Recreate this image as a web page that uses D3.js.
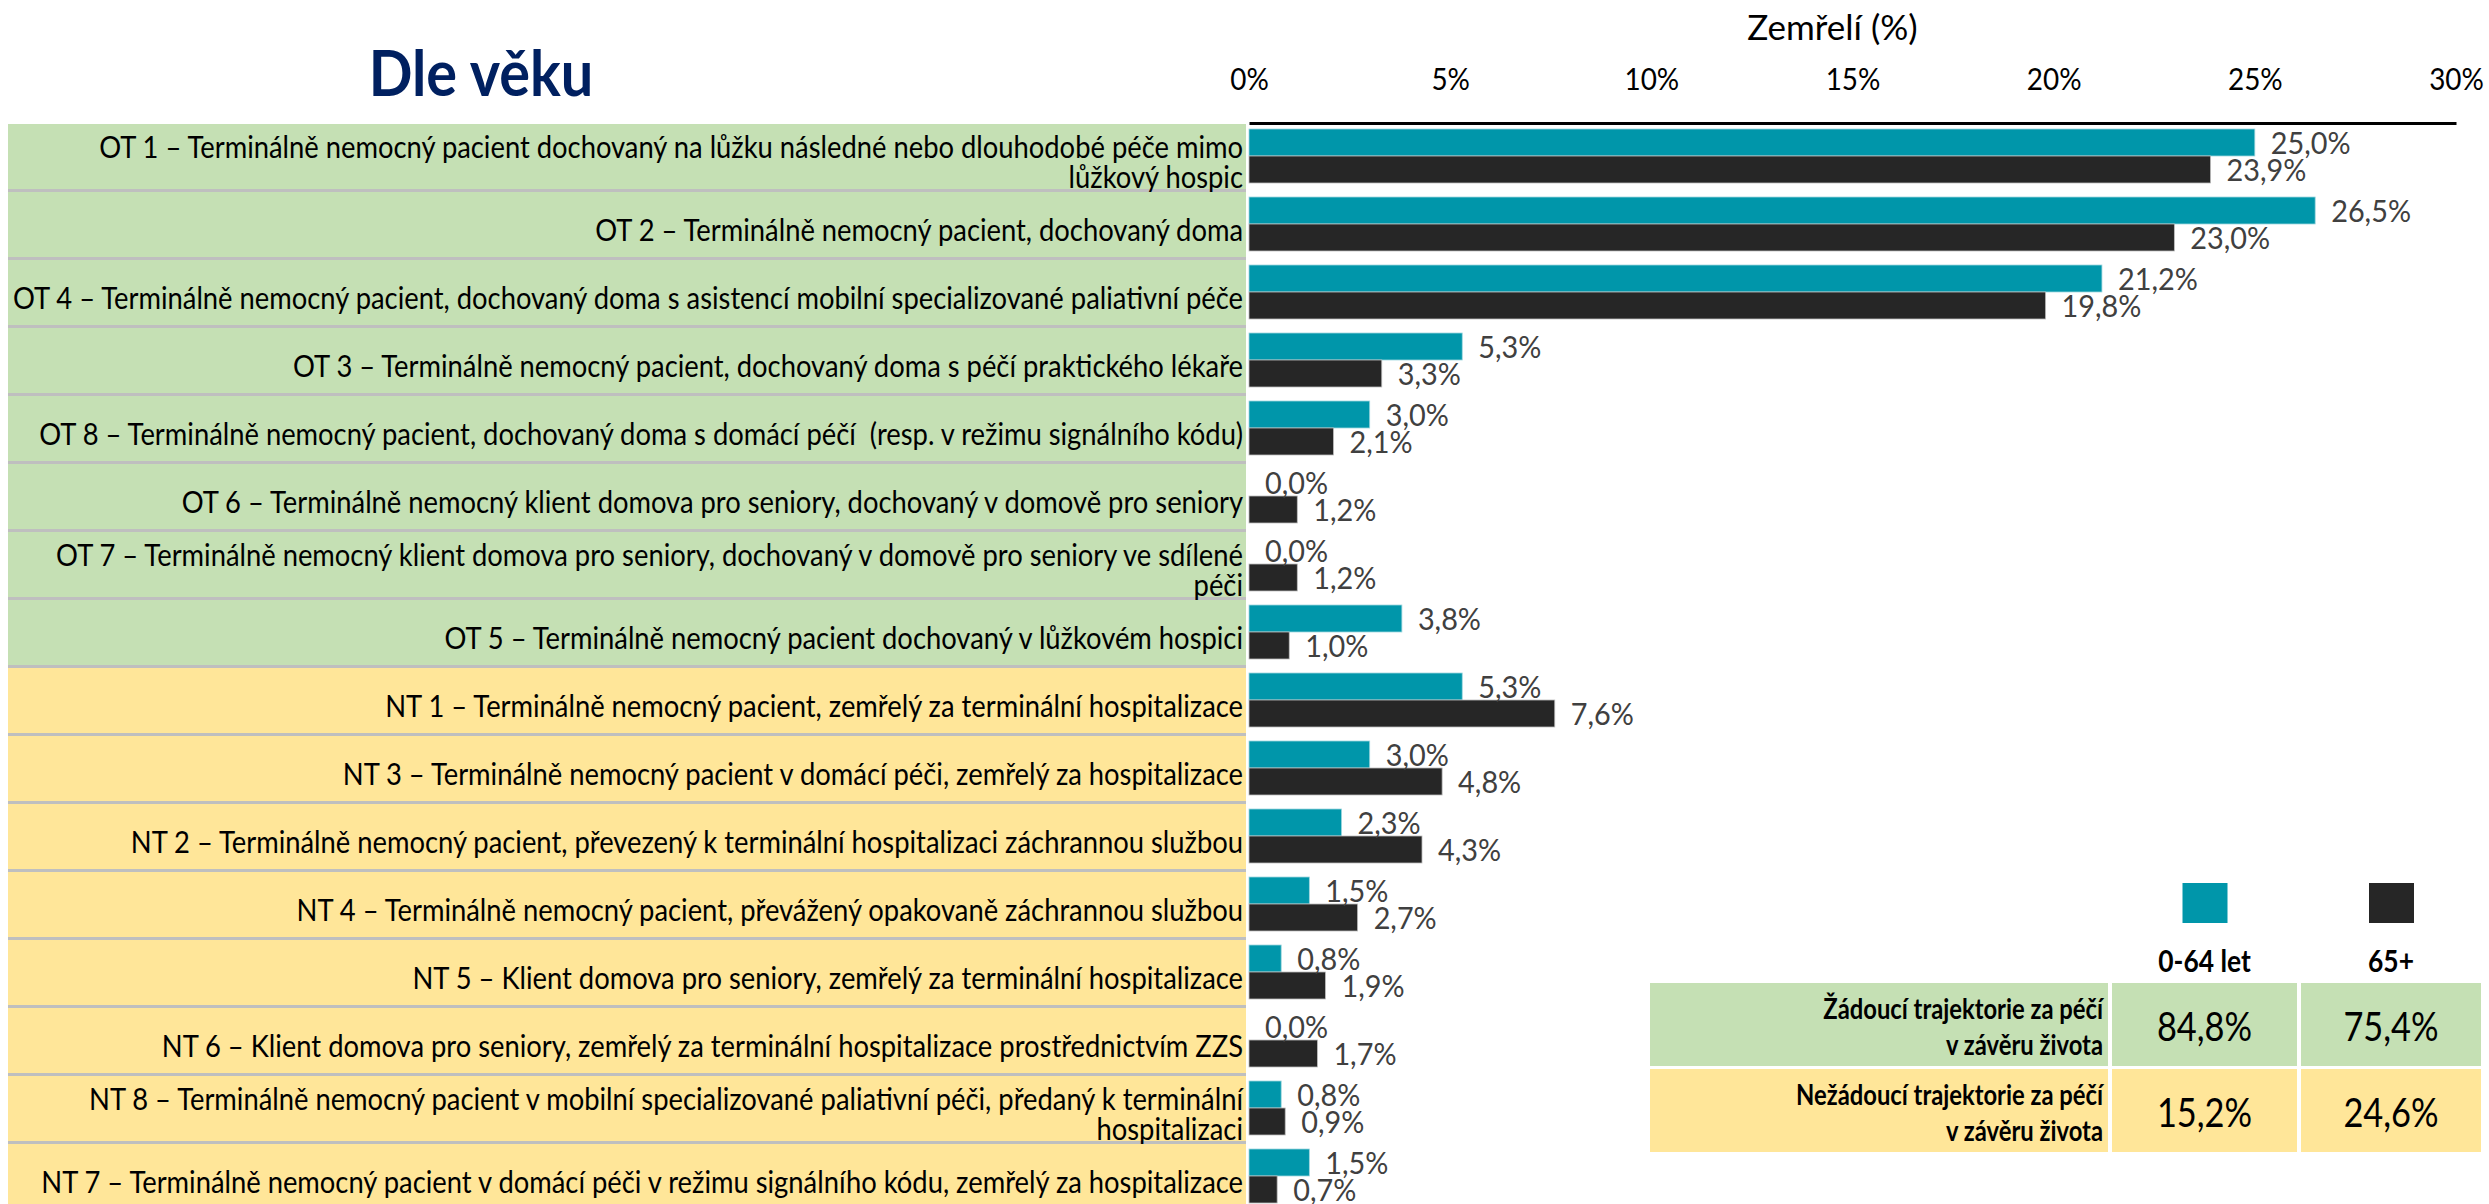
<!DOCTYPE html>
<html>
<head>
<meta charset="utf-8">
<script src="https://cdn.jsdelivr.net/npm/d3@7"></script>
<style>
  body { margin: 0; background: #fff; }
  svg { display: block; font-family: Lato, "Open Sans", sans-serif; }
  svg text { white-space: pre; }
</style>
</head>
<body>
<svg id="chart" width="2489" height="1204"></svg>
<script>
// trajectories, top to bottom (\n = forced line break as in the original)
const categories = [
  "OT 1 – Terminálně nemocný pacient dochovaný na lůžku následné nebo dlouhodobé péče mimo\nlůžkový hospic",
  "OT 2 – Terminálně nemocný pacient, dochovaný doma",
  "OT 4 – Terminálně nemocný pacient, dochovaný doma s asistencí mobilní specializované paliativní péče",
  "OT 3 – Terminálně nemocný pacient, dochovaný doma s péčí praktického lékaře",
  "OT 8 – Terminálně nemocný pacient, dochovaný doma s domácí péčí  (resp. v režimu signálního kódu)",
  "OT 6 – Terminálně nemocný klient domova pro seniory, dochovaný v domově pro seniory",
  "OT 7 – Terminálně nemocný klient domova pro seniory, dochovaný v domově pro seniory ve sdílené\npéči",
  "OT 5 – Terminálně nemocný pacient dochovaný v lůžkovém hospici",
  "NT 1 – Terminálně nemocný pacient, zemřelý za terminální hospitalizace",
  "NT 3 – Terminálně nemocný pacient v domácí péči, zemřelý za hospitalizace",
  "NT 2 – Terminálně nemocný pacient, převezený k terminální hospitalizaci záchrannou službou",
  "NT 4 – Terminálně nemocný pacient, převážený opakovaně záchrannou službou",
  "NT 5 – Klient domova pro seniory, zemřelý za terminální hospitalizace",
  "NT 6 – Klient domova pro seniory, zemřelý za terminální hospitalizace prostřednictvím ZZS",
  "NT 8 – Terminálně nemocný pacient v mobilní specializované paliativní péči, předaný k terminální\nhospitalizaci",
  "NT 7 – Terminálně nemocný pacient v domácí péči v režimu signálního kódu, zemřelý za hospitalizace"
];
const young = [25.0, 26.5, 21.2, 5.3, 3.0, 0.0, 0.0, 3.8, 5.3, 3.0, 2.3, 1.5, 0.8, 0.0, 0.8, 1.5];
const old   = [23.9, 23.0, 19.8, 3.3, 2.1, 1.2, 1.2, 1.0, 7.6, 4.8, 4.3, 2.7, 1.9, 1.7, 0.9, 0.7];

const seriesNames = ["0-64 let", "65+"];
const xTicks = [0, 5, 10, 15, 20, 25, 30];

const summaryLabels = [
  "Žádoucí trajektorie za péčí\nv závěru života",
  "Nežádoucí trajektorie za péčí\nv závěru života"
];
const summaryYoung = [84.8, 15.2];
const summaryOld = [75.4, 24.6];

const TEAL = "#0096aa",
  DARK = "#262626",
  GREEN = "#c5e0b4",
  YELLOW = "#ffe699",
  SEP = "#bfbfbf",
  NAVY = "#002060";

const cz = d3.formatLocale({ decimal: ",", thousands: " ", grouping: [3], currency: ["", " Kč"] });
const pct = v => cz.format(".1f")(v) + "%";

// squeeze text horizontally so the wide fallback font looks like a condensed one
const squeeze = (sel, k) =>
  sel.each(function() {
    const len = this.getComputedTextLength();
    d3.select(this).attr("textLength", len * k).attr("lengthAdjust", "spacingAndGlyphs");
  });

const svg = d3.select("#chart");

const x = d3.scaleLinear().domain([0, 30]).range([1249, 2456]);
const y = d3.scaleBand().domain(d3.range(categories.length)).range([122, 122 + 68 * categories.length]);
const ySub = d3.scaleBand().domain([0, 1]).range([7, 61]);

// --- title
svg.append("text")
  .attr("x", 481).attr("y", 96)
  .attr("text-anchor", "middle")
  .attr("font-weight", 700).attr("font-size", 64)
  .attr("fill", NAVY)
  .text("Dle věku")
  .call(squeeze, 0.9);

// --- label panel
const rows = svg.append("g").selectAll("g.row")
  .data(categories)
  .join("g")
  .attr("class", "row")
  .attr("transform", (d, i) => `translate(0,${y(i) + 2})`);

rows.append("rect")
  .attr("x", 8).attr("width", 1238)
  .attr("height", y.bandwidth())
  .attr("fill", d => (d.startsWith("OT") ? GREEN : YELLOW));

rows.filter((d, i) => i < categories.length - 1)
  .append("rect")
  .attr("x", 8).attr("width", 1238)
  .attr("y", y.bandwidth() - 3).attr("height", 3)
  .attr("fill", SEP);

const labelText = rows.append("text")
  .attr("text-anchor", "end")
  .attr("font-size", 30)
  .attr("fill", "#000");

labelText.selectAll("tspan")
  .data(d => {
    const lines = d.split("\n");
    return lines.map((t, j) => ({ t, yy: 34 + 15 + (j - (lines.length - 1) / 2) * 30 }));
  })
  .join("tspan")
  .attr("x", 1243)
  .attr("y", d => d.yy)
  .text(d => d.t);

// calibrate squeeze on the longest one-line label (OT 4)
const probe = labelText.filter((d, i) => i === 2).select("tspan").node();
const kLabel = 1230 / probe.getComputedTextLength();
labelText.selectAll("tspan").call(squeeze, kLabel);

// --- axis
const axis = svg.append("g")
  .attr("transform", "translate(0,123)")
  .call(d3.axisTop(x).tickValues(xTicks).tickFormat(d => d + "%").tickSize(0).tickSizeOuter(0).tickPadding(33));
axis.select(".domain").attr("stroke", "#000").attr("stroke-width", 3);
axis.selectAll("text")
  .attr("font-size", 30).attr("font-family", "Lato, sans-serif").attr("fill", "#000")
  .call(squeeze, 0.93);

svg.append("text")
  .attr("x", (x(0) + x(30)) / 2 - 20).attr("y", 40)
  .attr("text-anchor", "middle")
  .attr("font-size", 35)
  .text("Zemřelí (%)");

// --- bars
const bars = svg.append("g").selectAll("g.cat")
  .data(categories.map((c, i) => [young[i], old[i]]))
  .join("g")
  .attr("transform", (d, i) => `translate(0,${y(i)})`);

bars.selectAll("rect")
  .data(d => d)
  .join("rect")
  .attr("x", x(0))
  .attr("y", (d, j) => ySub(j))
  .attr("width", d => x(d) - x(0))
  .attr("height", ySub.bandwidth())
  .attr("fill", (d, j) => (j === 0 ? TEAL : DARK))
  .attr("stroke", (d, j) => (j === 0 ? "#9fd6de" : "#bdbdbd"))
  .attr("stroke-width", 0.8);

bars.selectAll("text")
  .data(d => d)
  .join("text")
  .attr("x", d => x(d) + 16)
  .attr("y", (d, j) => ySub(j) + ySub.bandwidth() / 2)
  .attr("dy", "0.36em")
  .attr("font-size", 31)
  .attr("fill", "#404040")
  .text(pct)
  .call(squeeze, 0.93);

// --- summary table with legend
const colX = [2112, 2301];
const colW = [185, 180];
const legendColors = [TEAL, DARK];

svg.append("g").selectAll("rect")
  .data(seriesNames)
  .join("rect")
  .attr("x", (d, j) => colX[j] + colW[j] / 2 - 22)
  .attr("y", 883)
  .attr("width", 45).attr("height", 40)
  .attr("fill", (d, j) => legendColors[j]);

svg.append("g").selectAll("text")
  .data(seriesNames)
  .join("text")
  .attr("x", (d, j) => colX[j] + colW[j] / 2)
  .attr("y", 972)
  .attr("text-anchor", "middle")
  .attr("font-weight", 700).attr("font-size", 30)
  .text(d => d)
  .call(squeeze, 0.88);

const tRows = svg.append("g").selectAll("g")
  .data(summaryLabels.map((l, i) => ({ l, v: [summaryYoung[i], summaryOld[i]], i })))
  .join("g")
  .attr("transform", d => `translate(0,${983 + d.i * 86})`);

tRows.append("rect")
  .attr("x", 1650).attr("width", 458).attr("height", 83)
  .attr("fill", d => (d.i === 0 ? GREEN : YELLOW));

tRows.selectAll("rect.val")
  .data(d => d.v.map(v => ({ v, i: d.i })))
  .join("rect")
  .attr("class", "val")
  .attr("x", (d, j) => colX[j]).attr("width", (d, j) => colW[j]).attr("height", 83)
  .attr("fill", d => (d.i === 0 ? GREEN : YELLOW));

tRows.append("text")
  .attr("text-anchor", "end")
  .attr("font-weight", 700).attr("font-size", 29)
  .selectAll("tspan")
  .data(d => d.l.split("\n"))
  .join("tspan")
  .attr("x", 2103)
  .attr("y", (d, j) => 36 + j * 36)
  .text(d => d)
  .call(squeeze, 0.82);

tRows.selectAll("text.val")
  .data(d => d.v)
  .join("text")
  .attr("class", "val")
  .attr("x", (d, j) => colX[j] + colW[j] / 2)
  .attr("y", 44)
  .attr("dy", "0.35em")
  .attr("text-anchor", "middle")
  .attr("font-size", 40)
  .text(pct)
  .call(squeeze, 0.86);
</script>
</body>
</html>
